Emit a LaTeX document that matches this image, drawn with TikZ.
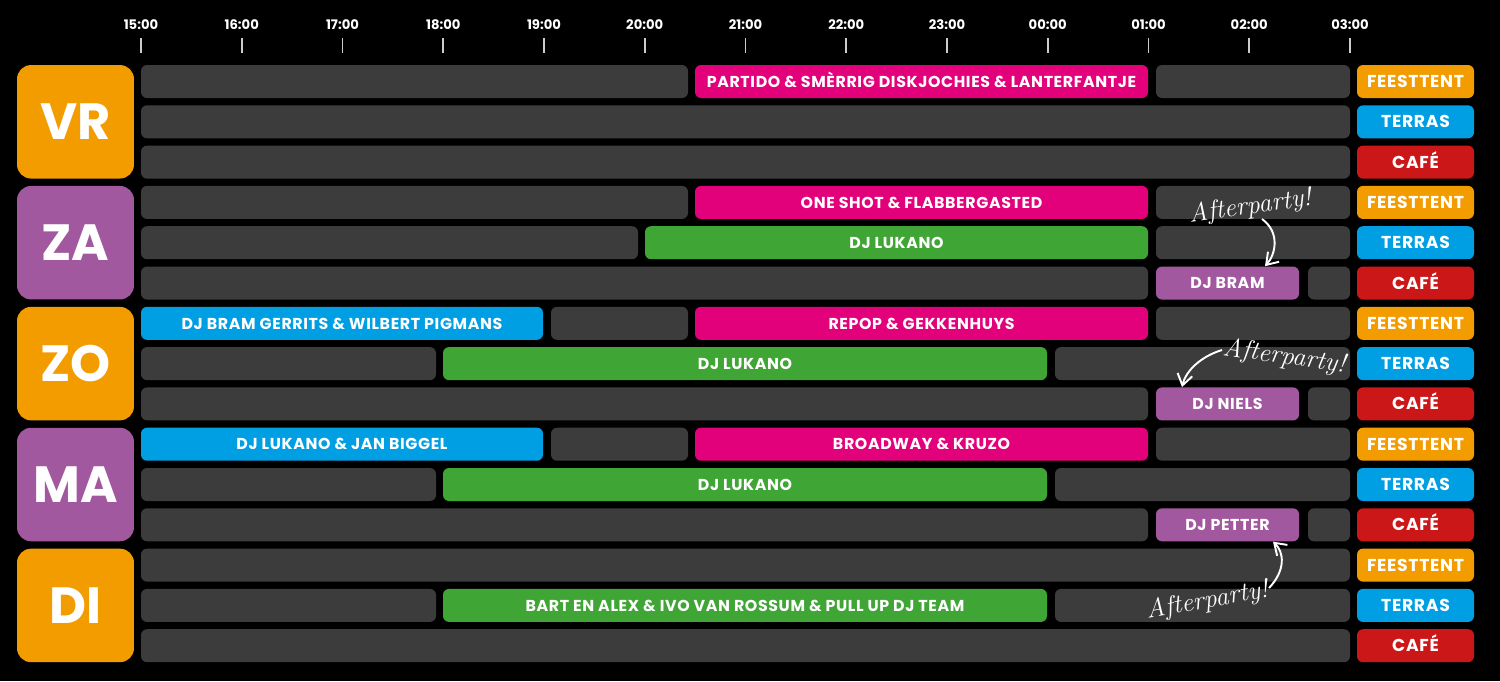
\documentclass[tikz,border=0pt]{standalone}
\usepackage{fontspec}
\newfontfamily\pop{Poppins}
\newfontfamily\popwide{Poppins}[LetterSpace=4]
\usetikzlibrary{arrows.meta}
\definecolor{bargray}{HTML}{3C3C3C}
\definecolor{dayorange}{HTML}{F39C00}
\definecolor{daypurple}{HTML}{A2589F}
\definecolor{barpink}{HTML}{E3007B}
\definecolor{bargreen}{HTML}{3FA535}
\definecolor{barblue}{HTML}{009FE3}
\definecolor{barred}{HTML}{CC1719}
\begin{document}
\begin{tikzpicture}[x=0.02cm,y=-0.02cm,>={Straight Barb[length=2.2mm,width=3mm]},
	slot/.style={rounded corners=0.12cm,minimum height=0.66cm,inner sep=0pt,text=white,text height=6.5pt,text depth=0pt,font=\popwide\bfseries\fontsize{9}{10}\selectfont},
	place/.style={slot,minimum width=2.34cm,text height=6.9pt,font=\popwide\bfseries\fontsize{9.8}{11}\selectfont},
	day/.style={rounded corners=0.28cm,minimum width=2.34cm,minimum height=2.27cm,inner sep=0pt,text=white,font=\pop\bfseries\fontsize{29}{30}\selectfont},
	hour/.style={text=white,inner sep=1pt,font=\pop\bfseries\fontsize{7.5}{9}\selectfont},
	note/.style={text=white,inner sep=1pt,font=\itshape\fontsize{15}{16}\selectfont},
	arr/.style={white,line width=1.1pt,->}]
	\def\rp{40.3}
	\def\rt{81.5}
	\fill[black] (0,0) rectangle (1500,681);
	\foreach \t [count=\i from 0] in {15:00,16:00,17:00,18:00,19:00,20:00,21:00,22:00,23:00,00:00,01:00,02:00,03:00}{
		\node[hour] (h\i) at ({141+100.75*\i},25) {\t};
		\draw[white!80!black,line width=1pt] ({141+100.75*\i},38) -- ++(0,15);
	}
	\foreach \txt/\c [count=\d from 0] in {VR/dayorange,ZA/daypurple,ZO/dayorange,MA/daypurple,DI/dayorange}
		\node[day,fill=\c] (d\txt) at (75.5,{121.8+3*\rp*\d}) {\txt};
	\foreach \d in {0,...,4}
		\foreach \k/\c/\txt in {0/dayorange/FEESTTENT,1/barblue/TERRAS,2/barred/CAFÉ}
			\node[place,fill=\c] (l\d\k) at (1415.5,{\rt+\rp*(3*\d+\k)}) {\txt};
	\foreach \r/\a/\b/\c/\n/\txt in {
		0/141/688/bargray/r0a/{},0/695/1148/barpink/r0b/{PARTIDO \& SMÈRRIG DISKJOCHIES \& LANTERFANTJE},0/1156/1350/bargray/r0c/{},
		1/141/1350/bargray/r1a/{},
		2/141/1350/bargray/r2a/{},
		3/141/688/bargray/r3a/{},3/695/1148/barpink/r3b/{ONE SHOT \& FLABBERGASTED},3/1156/1350/bargray/r3c/{},
		4/141/638/bargray/r4a/{},4/645/1148/bargreen/r4b/{DJ LUKANO},4/1156/1350/bargray/r4c/{},
		5/141/1148/bargray/r5a/{},5/1156/1299/daypurple/bram/{DJ BRAM},5/1308/1350/bargray/r5c/{},
		6/141/543/barblue/r6a/{DJ BRAM GERRITS \& WILBERT PIGMANS},6/551/688/bargray/r6b/{},6/695/1148/barpink/r6c/{REPOP \& GEKKENHUYS},6/1156/1350/bargray/r6d/{},
		7/141/436/bargray/r7a/{},7/443/1047/bargreen/r7b/{DJ LUKANO},7/1055/1350/bargray/r7c/{},
		8/141/1148/bargray/r8a/{},8/1156/1299/daypurple/niels/{DJ NIELS},8/1308/1350/bargray/r8c/{},
		9/141/543/barblue/r9a/{DJ LUKANO \& JAN BIGGEL},9/551/688/bargray/r9b/{},9/695/1148/barpink/r9c/{BROADWAY \& KRUZO},9/1156/1350/bargray/r9d/{},
		10/141/436/bargray/r10a/{},10/443/1047/bargreen/r10b/{DJ LUKANO},10/1055/1350/bargray/r10c/{},
		11/141/1148/bargray/r11a/{},11/1156/1299/daypurple/petter/{DJ PETTER},11/1308/1350/bargray/r11c/{},
		12/141/1350/bargray/r12a/{},
		13/141/436/bargray/r13a/{},13/443/1047/bargreen/r13b/{BART EN ALEX \& IVO VAN ROSSUM \& PULL UP DJ TEAM},13/1055/1350/bargray/r13c/{},
		14/141/1350/bargray/r14a/{}}
		\node[slot,fill=\c,minimum width={0.02cm*(\b-\a)}] (\n) at ({(\a+\b)/2},{\rt+\rp*\r}) {\txt};
	\node[note,rotate=8] (ap1) at (1250,207) {Afterparty!};
	\node[note,rotate=-8] (ap2) at (1284,357) {Afterparty!};
	\node[note,rotate=10] (ap3) at (1207,601) {Afterparty!};
	\coordinate (ap1s) at (1262,219);
	\coordinate (ap2s) at (1222,350);
	\coordinate (ap3s) at (1269,588);
	\draw[arr] (ap1s) .. controls (1280,232) and (1276,254) .. ([xshift=0.75cm]bram.north);
	\draw[arr] (ap2s) .. controls (1202,356) and (1186,370) .. ([xshift=-0.91cm]niels.north);
	\draw[arr] (ap3s) .. controls (1286,570) and (1284,552) .. ([xshift=0.91cm]petter.south);
\end{tikzpicture}
\end{document}
